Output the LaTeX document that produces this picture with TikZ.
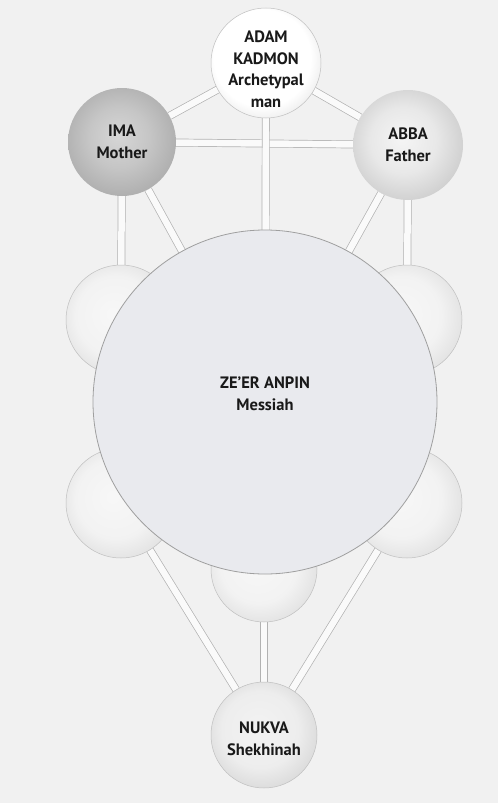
\documentclass[tikz,border=0pt]{standalone}
\usepackage{fontspec}
\setmainfont{PT Sans}
\definecolor{zefill}{RGB}{233,234,238}
\definecolor{bgc}{RGB}{241,241,241}
\pgfdeclareradialshading{shAdam}{\pgfpoint{-3bp}{4bp}}{color(0bp)=(white); color(22bp)=(white); color(31bp)=(gray!20); color(35bp)=(gray!50); color(50bp)=(gray!50)}
\pgfdeclareradialshading{shIma}{\pgfpoint{-2bp}{3bp}}{color(0bp)=(gray!32); color(14bp)=(gray!45); color(29bp)=(gray!66); color(35bp)=(gray!85); color(50bp)=(gray!85)}
\pgfdeclareradialshading{shAbba}{\pgfpoint{-3bp}{3bp}}{color(0bp)=(gray!8); color(15bp)=(gray!18); color(29bp)=(gray!40); color(35bp)=(gray!65); color(50bp)=(gray!65)}
\pgfdeclareradialshading{shSmall}{\pgfpoint{-4bp}{3bp}}{color(0bp)=(gray!6); color(18bp)=(gray!10); color(29bp)=(gray!24); color(35bp)=(gray!58); color(50bp)=(gray!58)}
\pgfdeclareradialshading{shNukva}{\pgfpoint{-3bp}{4bp}}{color(0bp)=(gray!10); color(18bp)=(gray!14); color(29bp)=(gray!30); color(35bp)=(gray!55); color(50bp)=(gray!55)}
\begin{document}
\begin{tikzpicture}[x=1pt,y=1pt,
  sphere/.style={circle,inner sep=0pt,minimum size=#1},
  bar/.style={draw=gray!60,double=gray!4,double distance=6.5pt,line width=0.7pt},
  rim/.style={draw=gray!50,line width=0.5pt},
  lbl/.style={align=center,text=black!90,font=\fontsize{16.5}{21.5}\selectfont\bfseries}]
\fill[bgc] (0,0) rectangle (498,-803);
\useasboundingbox (0,0) rectangle (498,-803);
% named sphere nodes (used as connector ends)
\node[sphere=110pt] (adam) at (266,-63) {};
\node[sphere=108pt] (ima) at (122,-142) {};
\node[sphere=110pt] (abba) at (408,-145) {};
\node[sphere=110pt] (gev) at (121,-320) {};
\node[sphere=110pt] (hes) at (407,-320) {};
\node[sphere=110pt] (hod) at (121,-503) {};
\node[sphere=110pt] (net) at (407,-503) {};
\node[sphere=106pt] (yes) at (264,-569) {};
\node[sphere=106pt] (nukva) at (264,-735) {};
\node[sphere=344pt] (ze) at (265,-402) {};
% connectors
\draw[bar] (ima) -- (abba);
\draw[bar] (adam) -- (ima);
\draw[bar] (adam) -- (abba);
\draw[bar] (adam) -- (ze);
\draw[bar] (ima) -- (gev);
\draw[bar] (abba) -- (hes);
\draw[bar] (ima) -- (ze);
\draw[bar] (abba) -- (ze);
\draw[bar] (hod) -- (nukva);
\draw[bar] (net) -- (nukva);
\draw[bar] (yes) -- (nukva);
% sphere bodies
\shade[shading=shSmall,rim] (gev.center) circle (55);
\shade[shading=shSmall,rim] (hes.center) circle (55);
\shade[shading=shSmall,rim] (hod.center) circle (55);
\shade[shading=shSmall,rim] (net.center) circle (55);
\shade[shading=shSmall,rim] (yes.center) circle (53);
\shade[shading=shAdam,rim] (adam.center) circle (55);
\shade[shading=shIma] (ima.center) circle (54);
\shade[shading=shAbba] (abba.center) circle (55);
\shade[shading=shNukva,rim] (nukva.center) circle (53);
\filldraw[fill=zefill,draw=gray!75,line width=0.8pt] (ze.center) circle (172);
% labels
\node[lbl] (tAdam) at ([yshift=-6pt]adam.center) {ADAM\\KADMON\\Archetypal\\man};
\node[lbl] (tIma) at (ima.center) {IMA\\Mother};
\node[lbl] (tAbba) at (abba.center) {ABBA\\Father};
\node[lbl,font=\fontsize{16.5}{22}\selectfont\bfseries] (tZe) at ([yshift=8pt]ze.center) {ZE’ER ANPIN\\Messiah};
\node[lbl] (tNukva) at ([yshift=-4pt]nukva.center) {NUKVA\\Shekhinah};
\end{tikzpicture}
\end{document}
